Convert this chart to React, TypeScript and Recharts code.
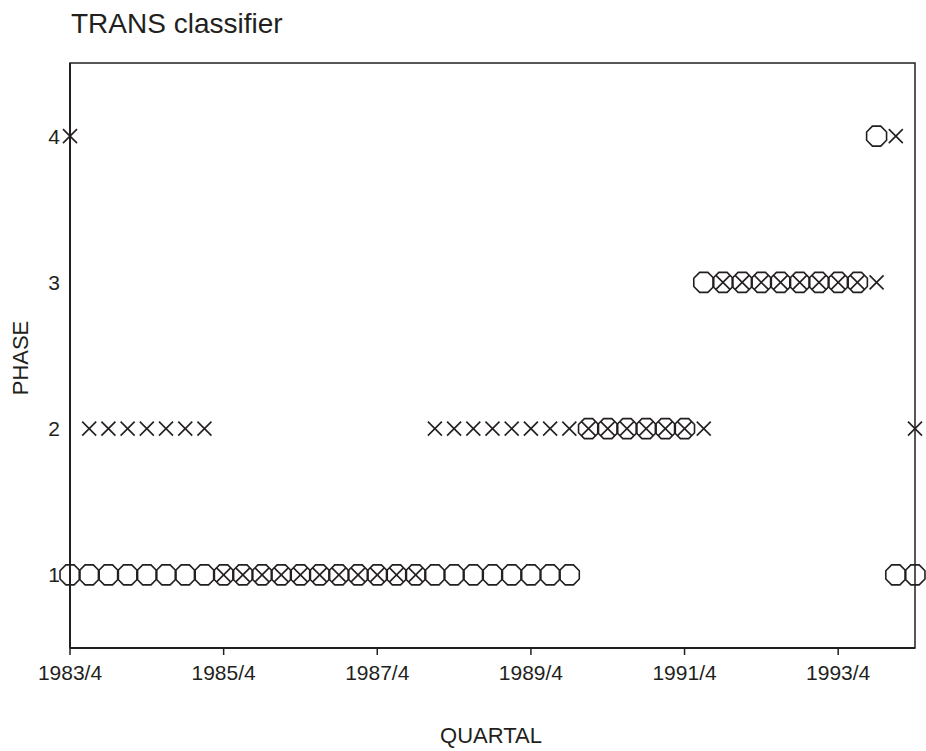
import { ReferenceArea, Scatter, ScatterChart, XAxis, YAxis } from 'recharts';

const quarters = [
  '1983/4',
  '1984/1', '1984/2', '1984/3', '1984/4',
  '1985/1', '1985/2', '1985/3', '1985/4',
  '1986/1', '1986/2', '1986/3', '1986/4',
  '1987/1', '1987/2', '1987/3', '1987/4',
  '1988/1', '1988/2', '1988/3', '1988/4',
  '1989/1', '1989/2', '1989/3', '1989/4',
  '1990/1', '1990/2', '1990/3', '1990/4',
  '1991/1', '1991/2', '1991/3', '1991/4',
  '1992/1', '1992/2', '1992/3', '1992/4',
  '1993/1', '1993/2', '1993/3', '1993/4',
  '1994/1', '1994/2', '1994/3', '1994/4',
];

// circles: reference phase
const phaseActual = [
  1, 1, 1, 1, 1, 1, 1, 1, 1, 1, 1, 1, 1, 1, 1, 1, 1, 1, 1, 1, 1, 1, 1, 1, 1, 1, 1,
  2, 2, 2, 2, 2, 2,
  3, 3, 3, 3, 3, 3, 3, 3, 3,
  4,
  1, 1,
];

// crosses: TRANS classifier output
const phaseClassified = [
  4,
  2, 2, 2, 2, 2, 2, 2,
  1, 1, 1, 1, 1, 1, 1, 1, 1, 1, 1,
  2, 2, 2, 2, 2, 2, 2, 2, 2, 2, 2, 2, 2, 2, 2,
  3, 3, 3, 3, 3, 3, 3, 3, 3,
  4,
  2,
];

const tickLabels = ['1983/4', '1985/4', '1987/4', '1989/4', '1991/4', '1993/4'];
const phaseTicks = [1, 2, 3, 4];

const ink = '#231f20';
const font = '"Liberation Sans", Arial, sans-serif';

const actualData = quarters.map((q, i) => ({ x: i, y: phaseActual[i], q }));
const classifiedData = quarters.map((q, i) => ({ x: i, y: phaseClassified[i], q }));
const xTicks = tickLabels.map((t) => quarters.indexOf(t));

function Octagon(props: any) {
  const { cx, cy } = props;
  const r = 10.8;
  const pts = [];
  for (let k = 0; k < 8; k++) {
    const a = ((22.5 + 45 * k) * Math.PI) / 180;
    pts.push(`${cx + r * Math.cos(a)},${cy + r * Math.sin(a)}`);
  }
  return <polygon points={pts.join(' ')} fill="none" stroke={ink} strokeWidth={1.6} />;
}

function Cross(props: any) {
  const { cx, cy } = props;
  const h = 7;
  return (
    <g stroke={ink} strokeWidth={1.6}>
      <line x1={cx - h} y1={cy - h} x2={cx + h} y2={cy + h} />
      <line x1={cx - h} y1={cy + h} x2={cx + h} y2={cy - h} />
    </g>
  );
}

export default function App() {
  return (
    <div style={{ position: 'absolute', left: 0, top: 0, background: '#fff' }}>
      <ScatterChart width={926} height={751} margin={{ top: 63, right: 11, bottom: 8, left: 10 }}>
        <XAxis
          type="number"
          dataKey="x"
          domain={[0, 44]}
          ticks={xTicks}
          tickFormatter={(i: number) => quarters[i]}
          height={95}
          tickSize={7}
          tickMargin={10}
          axisLine={{ stroke: ink, strokeWidth: 2 }}
          tickLine={{ stroke: ink, strokeWidth: 1.5 }}
          tick={{ fill: ink, fontSize: 21, fontFamily: font }}
        />
        <YAxis
          type="number"
          dataKey="y"
          domain={[0.5, 4.5]}
          ticks={phaseTicks}
          width={60}
          tickSize={0}
          tickMargin={10}
          tickLine={false}
          axisLine={{ stroke: ink, strokeWidth: 2 }}
          tick={{ fill: ink, fontSize: 21, fontFamily: font }}
        />
        <ReferenceArea x1={0} x2={44} y1={0.5} y2={4.5} fill="none" stroke={ink} strokeWidth={1.5} />
        <Scatter data={actualData} shape={Octagon} isAnimationActive={false} />
        <Scatter data={classifiedData} shape={Cross} isAnimationActive={false} />
        <text x={71} y={33} fontSize={28} fontFamily={font} fill={ink}>
          TRANS classifier
        </text>
        <text
          x={28}
          y={358}
          transform="rotate(-90 28 358)"
          textAnchor="middle"
          fontSize={22}
          fontFamily={font}
          fill={ink}
        >
          PHASE
        </text>
        <text x={491} y={743} textAnchor="middle" fontSize={22} fontFamily={font} fill={ink}>
          QUARTAL
        </text>
      </ScatterChart>
    </div>
  );
}
